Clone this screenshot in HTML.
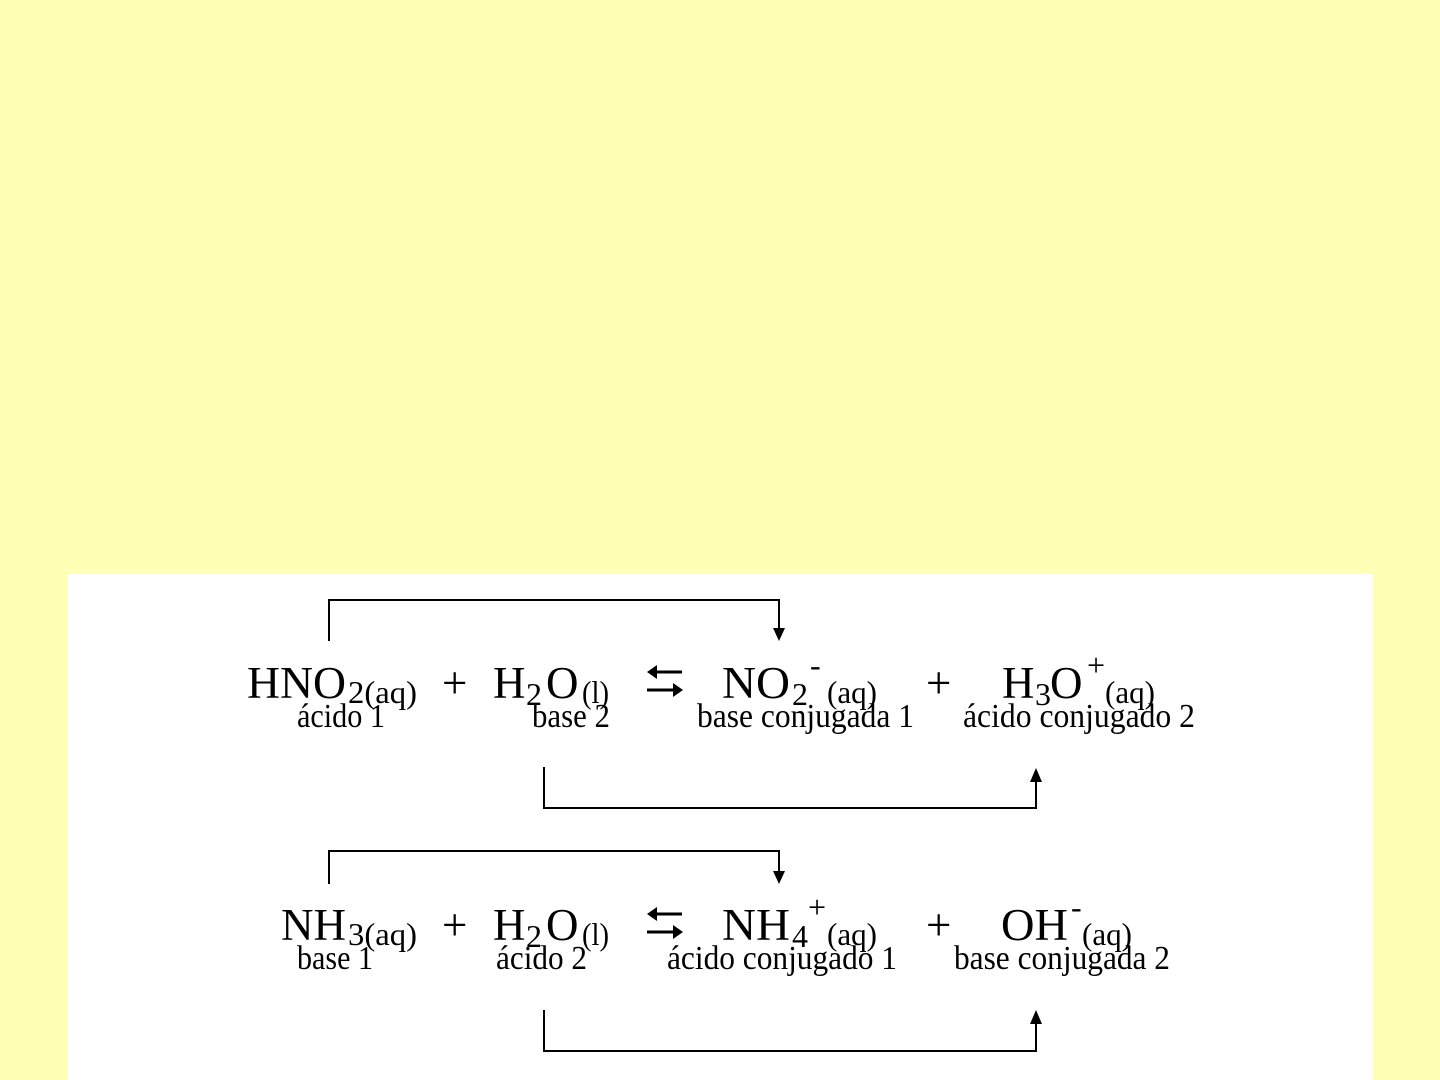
<!DOCTYPE html>
<html><head><meta charset="utf-8"><style>
html,body{margin:0;padding:0;width:1440px;height:1080px;overflow:hidden;background:#ffffb6;}
svg{position:absolute;left:0;top:0;}
text{font-family:"Liberation Serif",serif;fill:#000;}
.m{font-size:45px;}
.s{font-size:32px;}
.l{font-size:34px;}
</style></head><body>
<svg width="1440" height="1080" xmlns="http://www.w3.org/2000/svg">
<rect x="68" y="574" width="1305" height="506" fill="#fff"/>
<g stroke="#000" stroke-width="2" fill="none">
<polyline points="329,641 329,600 779,600 779,632"/>
<polyline points="544,767 544,808 1036,808 1036,778"/>
<polyline points="329,884 329,851 779,851 779,875"/>
<polyline points="544,1010 544,1051 1036,1051 1036,1020"/>
</g>
<g fill="#000">
<polygon points="773,628 785,628 779,641"/>
<polygon points="1030,782 1042,782 1036,768"/>
<polygon points="773,871 785,871 779,884"/>
<polygon points="1030,1024 1042,1024 1036,1010"/>
</g>
<g stroke="#000" stroke-width="3" fill="none">
<line x1="652" y1="672" x2="682" y2="672"/><line x1="647" y1="690" x2="677" y2="690"/>
<line x1="652" y1="914" x2="682" y2="914"/><line x1="647" y1="932" x2="677" y2="932"/>
</g>
<g fill="#000">
<polygon points="647,672 657,665 657,679"/><polygon points="683,690 673,683 673,697"/>
<polygon points="647,914 657,907 657,921"/><polygon points="683,932 673,925 673,939"/>
</g>
<!-- Row 1 -->
<text class="m" x="247" y="698" textLength="99" lengthAdjust="spacingAndGlyphs">HNO</text>
<text class="s" x="348" y="703" textLength="69" lengthAdjust="spacingAndGlyphs">2(aq)</text>
<text class="m" x="442" y="698">+</text>
<text class="m" x="493" y="698">H</text>
<text class="s" x="526" y="705">2</text>
<text class="m" x="546" y="698">O</text>
<text class="s" x="582" y="703" textLength="27" lengthAdjust="spacingAndGlyphs">(l)</text>
<text class="m" x="722" y="698" textLength="68" lengthAdjust="spacingAndGlyphs">NO</text>
<text class="s" x="792" y="705">2</text>
<text class="s" x="810" y="676">-</text>
<text class="s" x="827" y="703" textLength="50" lengthAdjust="spacingAndGlyphs">(aq)</text>
<text class="m" x="926" y="698">+</text>
<text class="m" x="1002" y="698">H</text>
<text class="s" x="1035" y="705">3</text>
<text class="m" x="1050" y="698">O</text>
<text class="s" x="1087" y="676">+</text>
<text class="s" x="1105" y="703" textLength="50" lengthAdjust="spacingAndGlyphs">(aq)</text>
<text class="l" x="297" y="727" textLength="88" lengthAdjust="spacingAndGlyphs">ácido 1</text>
<text class="l" x="532" y="727" textLength="78" lengthAdjust="spacingAndGlyphs">base 2</text>
<text class="l" x="697" y="727" textLength="217" lengthAdjust="spacingAndGlyphs">base conjugada 1</text>
<text class="l" x="963" y="727" textLength="232" lengthAdjust="spacingAndGlyphs">ácido conjugado 2</text>
<!-- Row 2 -->
<text class="m" x="281" y="940" textLength="65" lengthAdjust="spacingAndGlyphs">NH</text>
<text class="s" x="348" y="945" textLength="69" lengthAdjust="spacingAndGlyphs">3(aq)</text>
<text class="m" x="442" y="940">+</text>
<text class="m" x="493" y="940">H</text>
<text class="s" x="526" y="947">2</text>
<text class="m" x="546" y="940">O</text>
<text class="s" x="582" y="945" textLength="27" lengthAdjust="spacingAndGlyphs">(l)</text>
<text class="m" x="722" y="940" textLength="68" lengthAdjust="spacingAndGlyphs">NH</text>
<text class="s" x="792" y="947">4</text>
<text class="s" x="808" y="918">+</text>
<text class="s" x="827" y="945" textLength="50" lengthAdjust="spacingAndGlyphs">(aq)</text>
<text class="m" x="926" y="940">+</text>
<text class="m" x="1001" y="940" textLength="67" lengthAdjust="spacingAndGlyphs">OH</text>
<text class="s" x="1071" y="918">-</text>
<text class="s" x="1082" y="945" textLength="50" lengthAdjust="spacingAndGlyphs">(aq)</text>
<text class="l" x="297" y="969" textLength="76" lengthAdjust="spacingAndGlyphs">base 1</text>
<text class="l" x="496" y="969" textLength="91" lengthAdjust="spacingAndGlyphs">ácido 2</text>
<text class="l" x="667" y="969" textLength="230" lengthAdjust="spacingAndGlyphs">ácido conjugado 1</text>
<text class="l" x="954" y="969" textLength="216" lengthAdjust="spacingAndGlyphs">base conjugada 2</text>
</svg>
</body></html>
